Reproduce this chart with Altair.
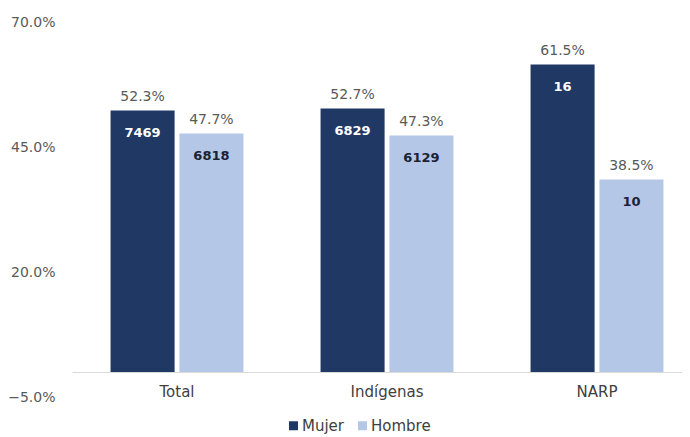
import altair as alt
import pandas as pd

categories = ["Total", "Indígenas", "NARP"]
genders = ["Mujer", "Hombre"]
mujer_pct = [52.3, 52.7, 61.5]
hombre_pct = [47.7, 47.3, 38.5]
mujer_n = [7469, 6829, 16]
hombre_n = [6818, 6129, 10]
y_ticks = [-0.05, 0.20, 0.45, 0.70]

rows = []
for i, c in enumerate(categories):
    rows.append({"cat": c, "g": "Mujer", "v": mujer_pct[i] / 100, "n": mujer_n[i], "tc": "#ffffff"})
    rows.append({"cat": c, "g": "Hombre", "v": hombre_pct[i] / 100, "n": hombre_n[i], "tc": "#1b2233"})
df = pd.DataFrame(rows)

FONT = "DejaVu Sans"

x = alt.X("cat:N", sort=categories, title=None,
          scale=alt.Scale(range=[0, 630], paddingInner=0, paddingOuter=0),
          axis=alt.Axis(orient="bottom", offset=-25, ticks=False, labelAngle=0,
                        labelPadding=12, labelFontSize=15, labelColor="#404040",
                        labelFont=FONT, domainColor="#d9d9d9", domainWidth=1.2))
xo = alt.XOffset("g:N", sort=genders, scale=alt.Scale(paddingInner=0.07, paddingOuter=0.56))
y = alt.Y("v:Q", title=None,
          scale=alt.Scale(domain=[-0.05, 0.70], nice=False, zero=False),
          axis=alt.Axis(values=y_ticks, format=".1%", grid=False, domain=False, ticks=False,
                        labelPadding=17, labelFontSize=14, labelColor="#595959", labelFont=FONT))

base = alt.Chart(df).encode(x=x, xOffset=xo, y=y)

bars = base.mark_bar().encode(
    color=alt.Color("g:N", sort=genders, title=None,
                    scale=alt.Scale(domain=genders, range=["#203864", "#b4c7e7"]),
                    legend=alt.Legend(orient="none", legendX=214, legendY=396, direction="horizontal",
                                      symbolType="square", symbolSize=81, symbolStrokeWidth=0,
                                      labelFontSize=15, labelColor="#404040", labelFont=FONT,
                                      columnPadding=10, labelOffset=1))
)

pct = base.mark_text(dy=-14, fontSize=14, color="#595959", font=FONT).encode(
    text=alt.Text("v:Q", format=".1%"))

cnt = base.mark_text(dy=22, fontSize=13, fontWeight="bold", font=FONT).encode(
    text=alt.Text("n:Q", format="d"),
    color=alt.Color("tc:N", scale=None))

chart = (bars + pct + cnt).properties(
    width=610, height=375,
    padding={"left": 64, "top": 14, "right": 0, "bottom": 40},
    autosize=alt.AutoSizeParams(type="none"),
).configure(background="#ffffff").configure_view(stroke=None)

chart.save("out.html", embed_options={"renderer": "svg", "actions": False})
